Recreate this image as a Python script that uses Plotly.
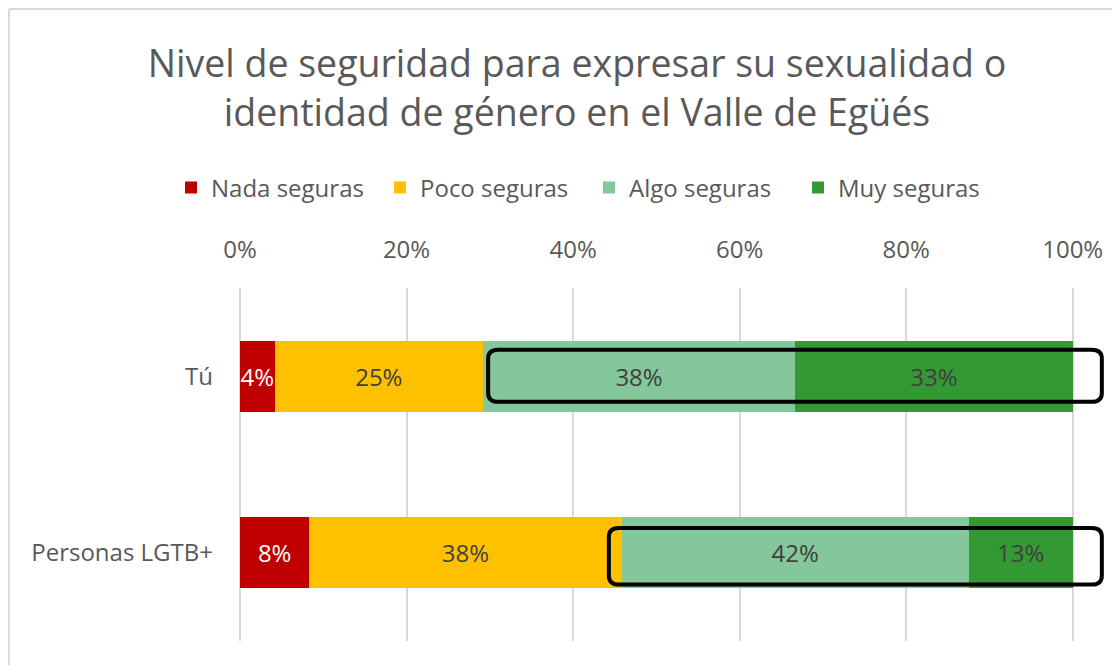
import plotly.graph_objects as go

categories = ["Tú", "Personas LGTB+"]
series_names = ["Nada seguras", "Poco seguras", "Algo seguras", "Muy seguras"]
series_colors = ["#C00000", "#FFC000", "#84C79A", "#339933"]
text_colors = ["#FFFFFF", "#404040", "#404040", "#404040"]
values = {
    "Nada seguras": [4.17, 8.33],
    "Poco seguras": [25.0, 37.5],
    "Algo seguras": [37.5, 41.67],
    "Muy seguras": [33.33, 12.5],
}
labels = {
    "Nada seguras": ["4%", "8%"],
    "Poco seguras": ["25%", "38%"],
    "Algo seguras": ["38%", "42%"],
    "Muy seguras": ["33%", "13%"],
}
tick_vals = [0, 20, 40, 60, 80, 100]
tick_text = ["0%", "20%", "40%", "60%", "80%", "100%"]
# highlight boxes: (row index, x start, x end, y offset top, y offset bottom)
highlights = [(0, 29.8, 103.5, -0.15, 0.145), (1, 44.3, 103.5, -0.14, 0.18)]

FONT = "Open Sans"
GRAY = "#595959"
OFF = 8  # page body margin

fig = go.Figure()
ypos = list(range(len(categories)))
for name, col, tc in zip(series_names, series_colors, text_colors):
    fig.add_trace(go.Bar(
        name=name, y=ypos, x=values[name], orientation="h",
        marker=dict(color=col, line=dict(width=0)),
        text=labels[name], textposition="inside", insidetextanchor="middle",
        textangle=0, constraintext="none",
        textfont=dict(family=FONT, size=24, color=tc),
        width=0.4, hoverinfo="skip",
    ))

def rounded(x0, x1, y0, y1, rx, ry):
    return (f"M {x0+rx},{y0} L {x1-rx},{y0} Q {x1},{y0} {x1},{y0+ry} "
            f"L {x1},{y1-ry} Q {x1},{y1} {x1-rx},{y1} L {x0+rx},{y1} "
            f"Q {x0},{y1} {x0},{y1-ry} L {x0},{y0+ry} Q {x0},{y0} {x0+rx},{y0} Z")

shapes = []
for row, xs, xe, dt, db in highlights:
    shapes.append(dict(type="path", xref="x", yref="y",
                       path=rounded(xs, xe, row + dt, row + db, 1.2, 0.05),
                       line=dict(color="black", width=4), layer="above"))
# chart border (top and left)
shapes.append(dict(type="line", xref="paper", yref="paper", x0=-0.2667, x1=1.1,
                   y0=1.7907, y1=1.7907, line=dict(color="#D9D9D9", width=2)))
shapes.append(dict(type="line", xref="paper", yref="paper", x0=-0.2667, x1=-0.2667,
                   y0=-0.1, y1=1.7907, line=dict(color="#D9D9D9", width=2)))

fig.update_layout(
    barmode="stack",
    width=1120, height=665,
    margin=dict(l=240 - OFF, r=14 + OFF, t=288 - OFF, b=24 + OFF),
    paper_bgcolor="white", plot_bgcolor="white",
    font=dict(family=FONT, color=GRAY),
    title=dict(text="Nivel de seguridad para expresar su sexualidad o<br>identidad de género en el Valle de Egüés",
               x=(577 - OFF)/1120, xref="container", xanchor="center",
               y=1 - (77 - OFF)/665, yref="container", yanchor="middle",
               font=dict(family=FONT, size=37.5, color=GRAY)),
    legend=dict(orientation="h", x=(589-240)/866, xanchor="center",
                y=(641-188)/353, yanchor="middle", traceorder="normal",
                font=dict(family=FONT, size=24, color=GRAY), itemwidth=30,
                entrywidth=164),
    xaxis=dict(range=[0, 104], side="top", tickvals=tick_vals, ticktext=tick_text,
               showgrid=True, gridcolor="#D9D9D9", gridwidth=2,
               zeroline=True, zerolinecolor="#D9D9D9", zerolinewidth=2,
               showline=False, ticks="", ticklabelstandoff=24,
               tickfont=dict(family=FONT, size=24, color=GRAY), fixedrange=True),
    yaxis=dict(range=[1.5, -0.5], tickvals=ypos, ticktext=categories,
               showgrid=False, zeroline=False, showline=False, ticks="",
               ticklabelstandoff=26,
               tickfont=dict(family=FONT, size=24, color=GRAY)),
    shapes=shapes,
)
fig.write_html("out.html")
